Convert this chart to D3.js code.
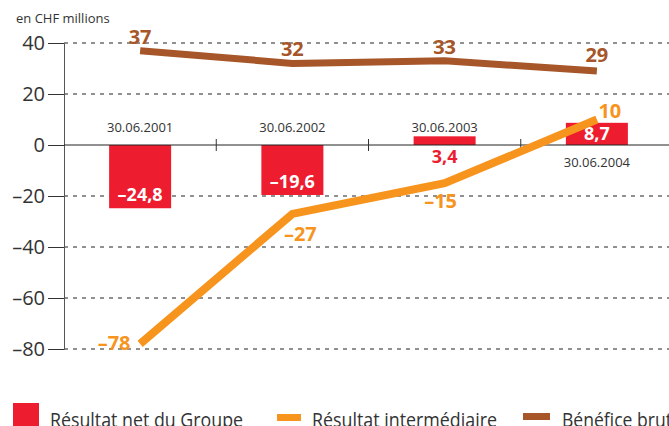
<!DOCTYPE html>
<html>
<head>
<meta charset="utf-8">
<script src="https://cdn.jsdelivr.net/npm/d3@7"></script>
<style>
  body{margin:0;background:#fff}
  svg{display:block;font-family:"Open Sans","Noto Sans",sans-serif}
</style>
</head>
<body>
<svg id="chart" width="669" height="426"></svg>
<script>
// data
var dates=['30.06.2001','30.06.2002','30.06.2003','30.06.2004']
var netGroupe=[-24.8,-19.6,3.4,8.7]
var intermediaire=[-78,-27,-15,10]
var beneficeBrut=[37,32,33,29]
var yTicks=[40,20,0,-20,-40,-60,-80]
var legendNames=['Résultat net du Groupe','Résultat intermédiaire','Bénéfice brut']

var colors={red:'#ED1C2E',orange:'#F7941D',brown:'#A65628',text:'#333'}

var svg=d3.select('#chart')
var x=d3.scaleBand().domain(dates).range([64,673])
var y=d3.scaleLinear().domain([-80,40]).range([349,43])
var cx=d=>x(d)+x.bandwidth()/2
var fmt=v=>String(v).replace('.',',').replace('-','–')

// unit
svg.append('text').attr('x',16).attr('y',23)
    .attr('font-size',13).attr('fill',colors.text)
    .text('en CHF millions')

// grid
svg.append('g')
    .selectAll('line')
    .data(yTicks.filter(d=>d!=0))
    .join('line')
    .attr('x1',64).attr('x2',669)
    .attr('y1',d=>y(d)).attr('y2',d=>y(d))
    .attr('stroke','#222').attr('stroke-width',1)
    .attr('stroke-dasharray','4,5')

// y axis
var yAxis=svg.append('g')
    .attr('transform','translate(64,0)')
    .call(d3.axisLeft(y).tickValues(yTicks).tickSize(16).tickPadding(3).tickFormat(d=>String(d).replace('-','–')))
yAxis.select('.domain').attr('stroke','#555')
yAxis.selectAll('.tick line').attr('stroke','#333')
yAxis.selectAll('.tick text').attr('font-size',20).attr('fill',colors.text)
    .attr('font-family','"Open Sans","Noto Sans",sans-serif')

// bars
svg.append('g')
    .selectAll('rect')
    .data(netGroupe)
    .join('rect')
    .attr('x',(d,i)=>cx(dates[i])-31)
    .attr('width',62)
    .attr('y',d=>y(Math.max(0,d)))
    .attr('height',d=>Math.abs(y(d)-y(0)))
    .attr('fill',colors.red)

// x axis
svg.append('line').attr('x1',64).attr('x2',669)
    .attr('y1',y(0)).attr('y2',y(0))
    .attr('stroke','#222').attr('stroke-width',1)
svg.append('g')
    .selectAll('line')
    .data(dates.slice(1))
    .join('line')
    .attr('x1',d=>x(d)).attr('x2',d=>x(d))
    .attr('y1',y(0)-6).attr('y2',y(0)+6)
    .attr('stroke','#333')

// date labels
svg.append('g')
    .selectAll('text')
    .data(dates)
    .join('text')
    .attr('x',d=>cx(d))
    .attr('y',(d,i)=>i==3?y(0)+22:y(0)-13)
    .attr('text-anchor','middle')
    .attr('font-size',13).attr('fill',colors.text)
    .text(d=>d)

// bar labels
svg.append('g')
    .selectAll('text')
    .data(netGroupe)
    .join('text')
    .attr('x',(d,i)=>cx(dates[i]))
    .attr('y',(d,i)=>i==2?y(0)+18:(d<0?y(d)-7:y(0)-5))
    .attr('text-anchor','middle')
    .attr('font-size',18).attr('font-weight','bold')
    .attr('fill',(d,i)=>i==2?colors.red:'#fff')
    .text(fmt)

// lines
var lineGen=d3.line().x((d,i)=>cx(dates[i])).y(d=>y(d))
svg.append('path').datum(beneficeBrut)
    .attr('d',lineGen).attr('fill','none')
    .attr('stroke',colors.brown).attr('stroke-width',7)
svg.append('path').datum(intermediaire)
    .attr('d',lineGen).attr('fill','none')
    .attr('stroke',colors.orange).attr('stroke-width',8)

// line labels
var brutOff=[[0,-7],[0,-7],[0,-7],[0,-9]]
svg.append('g')
    .selectAll('text')
    .data(beneficeBrut)
    .join('text')
    .attr('x',(d,i)=>cx(dates[i])+brutOff[i][0])
    .attr('y',(d,i)=>y(d)+brutOff[i][1])
    .attr('text-anchor','middle')
    .attr('font-size',20).attr('font-weight','bold')
    .attr('fill',colors.brown)
    .text(fmt)
var interOff=[[-26,6],[8,27],[-4,25],[13,-2]]
svg.append('g')
    .selectAll('text')
    .data(intermediaire)
    .join('text')
    .attr('x',(d,i)=>cx(dates[i])+interOff[i][0])
    .attr('y',(d,i)=>y(d)+interOff[i][1])
    .attr('text-anchor','middle')
    .attr('font-size',20).attr('font-weight','bold')
    .attr('fill',colors.orange)
    .text(fmt)

// legend
var lg=svg.append('g')
lg.append('rect').attr('x',13).attr('y',403).attr('width',26).attr('height',30).attr('fill',colors.red)
lg.append('rect').attr('x',277).attr('y',414).attr('width',24).attr('height',7).attr('fill',colors.orange)
lg.append('rect').attr('x',523).attr('y',413).attr('width',27).attr('height',7).attr('fill',colors.brown)
lg.selectAll('text')
    .data(legendNames)
    .join('text')
    .attr('x',(d,i)=>[50,312,562][i])
    .attr('y',427)
    .attr('font-size',20).attr('fill',colors.text)
    .attr('textLength',(d,i)=>[193,185,110][i])
    .attr('lengthAdjust','spacingAndGlyphs')
    .text(d=>d)
</script>
</body>
</html>
